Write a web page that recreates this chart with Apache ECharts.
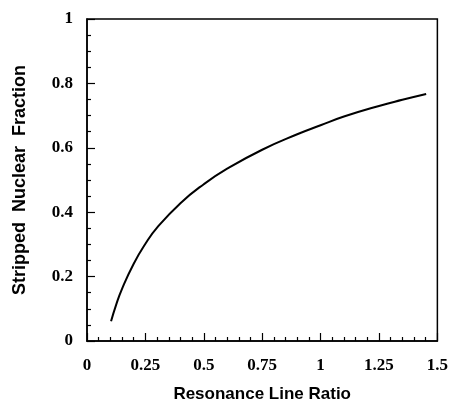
<!DOCTYPE html>
<html><head><meta charset="utf-8">
<script src="https://cdn.jsdelivr.net/npm/echarts@6/dist/echarts.min.js"></script>
<style>html,body{margin:0;padding:0;background:#fff}#c{width:451px;height:408px}</style>
</head><body><div id="c"></div>
<script>
const xValues = [0.103, 0.125, 0.15, 0.2, 0.25, 0.3, 0.4, 0.5, 0.6, 0.75, 0.9, 1.0, 1.1, 1.25, 1.35, 1.452];
const yValues = [0.061, 0.113, 0.162, 0.240, 0.302, 0.352, 0.428, 0.487, 0.535, 0.594, 0.642, 0.670, 0.697, 0.730, 0.749, 0.767];
const xTickLabels = ['0','0.25','0.5','0.75','1','1.25','1.5'];
const yTickLabels = ['0','0.2','0.4','0.6','0.8','1'];
const xTitle = 'Resonance Line Ratio';
const yTitle = 'Stripped  Nuclear  Fraction';

const chart = echarts.init(document.getElementById('c'), null, {renderer:'canvas'});
const labelFont = {fontFamily:'Liberation Serif', fontWeight:'bold', fontSize:17, color:'#000'};
chart.setOption({
  animation:false,
  grid:{left:87, right:13, top:19, bottom:63, show:true, borderColor:'#000', borderWidth:1.5},
  xAxis:{type:'value', min:0, max:1.5, interval:0.25,
    axisLine:{show:true, lineStyle:{color:'#000', width:1.5}},
    axisTick:{show:true, inside:true, length:8, lineStyle:{color:'#000', width:1.2}},
    minorTick:{show:true, splitNumber:5, length:4, lineStyle:{color:'#000', width:1.2}},
    splitLine:{show:false},
    axisLabel:Object.assign({margin:16, formatter:(v)=>{const i=Math.round(v/0.25);return xTickLabels[i]??'';}}, labelFont),
    name:xTitle, nameLocation:'middle', nameGap:45,
    nameTextStyle:{fontFamily:'Liberation Sans', fontWeight:'bold', fontSize:17, color:'#000'}
  },
  yAxis:{type:'value', min:0, max:1, interval:0.2,
    axisLine:{show:true, lineStyle:{color:'#000', width:1.5}},
    axisTick:{show:true, inside:true, length:8, lineStyle:{color:'#000', width:1.2}},
    minorTick:{show:true, splitNumber:4, length:4, lineStyle:{color:'#000', width:1.2}},
    splitLine:{show:false},
    axisLabel:Object.assign({margin:14, formatter:(v)=>{const i=Math.round(v/0.2);return yTickLabels[i]??'';}}, labelFont),
    name:yTitle, nameLocation:'middle', nameGap:58,
    nameTextStyle:{fontFamily:'Liberation Sans', fontWeight:'bold', fontSize:18, color:'#000'}
  },
  series:[{type:'line', smooth:true, showSymbol:false,
    data:xValues.map((x,i)=>[x,yValues[i]]),
    lineStyle:{color:'#000', width:2}}]
});
</script></body></html>
